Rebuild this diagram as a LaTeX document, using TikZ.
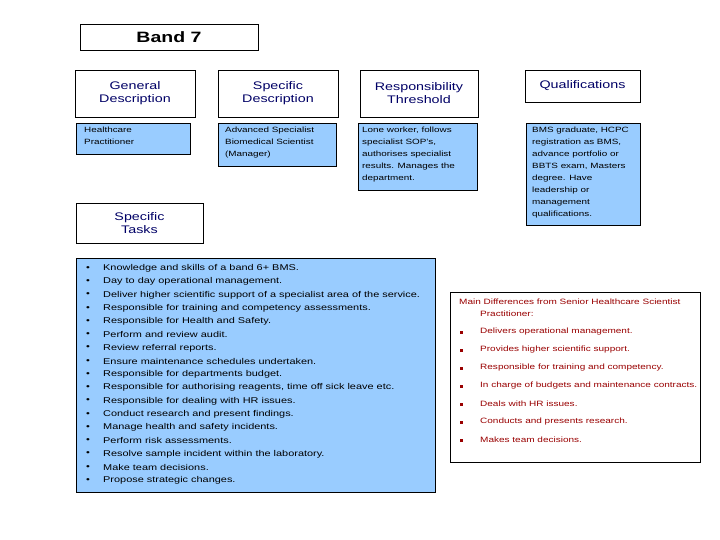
\documentclass[tikz,border=0pt]{standalone}
\usepackage{fontspec}
\setmainfont{Liberation Sans}[FakeStretch=1.3]
\begin{document}
\begin{tikzpicture}[x=1pt,y=-1pt,
  hdr/.style={draw=black,fill=white,align=center,font=\fontsize{11}{13}\selectfont,text=blue!40!black},
  blu/.style={align=left,anchor=north west,inner sep=0pt,font=\fontsize{7.6}{12}\selectfont},
  txt/.style={anchor=west,inner sep=0pt,font=\fontsize{8.4}{9}\selectfont},
  rtx/.style={anchor=west,inner sep=0pt,font=\fontsize{7.7}{8}\selectfont,text=red!60!black}]
\useasboundingbox (0,0) rectangle (720,540);
\tikzset{bluefill/.style={fill={rgb,255:red,153;green,204;blue,255}}}
\node[draw,minimum width=178,minimum height=26,font=\bfseries\fontsize{15}{17}\selectfont] (band) at (169,37) {Band 7};
\node[hdr,minimum width=120,minimum height=47] (gd) at (135,93.5) {General\\Description};
\node[hdr,minimum width=120,minimum height=47] (sd) at (278,93.5) {Specific\\Description};
\node[hdr,minimum width=118,minimum height=47] (rt) at (419,93.5) {Responsibility\\Threshold};
\node[hdr,minimum width=115,minimum height=32] (qu) at (582.5,86) {Qualifications};
\draw[bluefill] (76,123) rectangle (190,154);
\node[blu] (b1) at (84,127) {Healthcare\\Practitioner};
\draw[bluefill] (218,123) rectangle (336,166);
\node[blu] (b2) at (225,127) {Advanced Specialist\\Biomedical Scientist\\(Manager)};
\draw[bluefill] (358,123) rectangle (477,190);
\node[blu] (b3) at (362,127) {Lone worker, follows\\specialist SOP's,\\authorises specialist\\results.  Manages the\\department.};
\draw[bluefill] (526,123) rectangle (640,225);
\node[blu] (b4) at (532,127) {BMS graduate, HCPC\\registration as BMS,\\advance portfolio or\\BBTS exam, Masters\\degree.  Have\\leadership or\\management\\qualifications.};
\node[hdr,minimum width=127,minimum height=40] (st) at (139.5,223) {Specific\\Tasks};
\draw[bluefill] (76,258) rectangle (435,492);
\foreach \t [count=\i from 0] in {Knowledge and skills of a band 6+ BMS.,Day to day operational management.,Deliver higher scientific support of a specialist area of the service.,Responsible for training and competency assessments.,Responsible for Health and Safety.,Perform and review audit.,Review referral reports.,Ensure maintenance schedules undertaken.,Responsible for departments budget.,{Responsible for authorising reagents, time off sick leave etc.},Responsible for dealing with HR issues.,Conduct research and present findings.,Manage health and safety incidents.,Perform risk assessments.,Resolve sample incident within the laboratory.,Make team decisions.,Propose strategic changes.}{
  \node[txt] (t\i) at (103,{268.5+13.25*\i}) {\t};
  \node[txt] at (86,{268.5+13.25*\i}) {\textbullet};
}
\draw[fill=white] (450,292) rectangle (700,462);
\node[rtx] (r0) at (459,302) {Main Differences from Senior Healthcare Scientist};
\node[rtx] at (480,314) {Practitioner:};
\foreach \t [count=\i from 0] in {Delivers operational management.,Provides higher scientific support.,Responsible for training and competency.,In charge of budgets and maintenance contracts.,Deals with HR issues.,Conducts and presents research.,Makes team decisions.}{
  \node[rtx] (r\i b) at (480,{332+18*\i}) {\t};
  \fill[red!60!black] (460,{330.5+18*\i}) rectangle +(3,3);
}
\end{tikzpicture}
\end{document}
